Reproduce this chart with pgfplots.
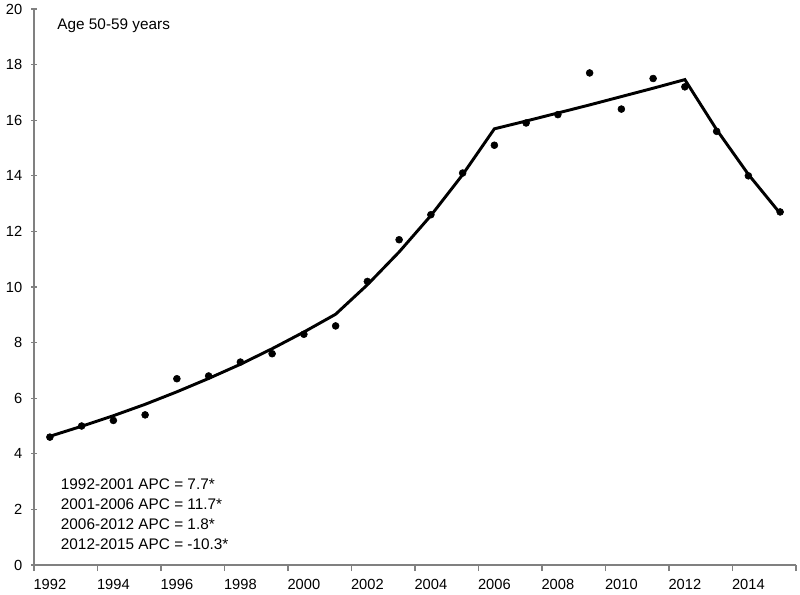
\documentclass[border=0pt]{standalone}
\usepackage{pgfplots}
\pgfplotsset{compat=1.18}
\usepackage{fontspec}
\setmainfont{Liberation Sans}
\usetikzlibrary{calc}
\definecolor{axgray}{RGB}{128,128,128}
\begin{document}
\begin{tikzpicture}
\begin{axis}[
  name=ax,
  at={(0,0)}, anchor=south west,
  scale only axis,
  width=571.5pt, height=417pt,
  xmin=1992, xmax=2016, ymin=0, ymax=20,
  axis lines*=left,
  axis line style={axgray, line width=0.9pt},
  xtick={1992,1994,...,2016},
  xticklabels={1992,1994,1996,1998,2000,2002,2004,2006,2008,2010,2012,2014,{}},
  xticklabel style={xshift=11.9pt, yshift=-3pt, font=\fontsize{11}{12}\selectfont},
  ytick={0,2,...,20},
  yticklabel style={xshift=-3pt, font=\fontsize{11}{12}\selectfont},
  xtick align=outside,
  ytick align=center,
  major tick length=4.5pt,
  tick style={axgray, line width=0.9pt},
  /pgf/number format/assume math mode=true,
  clip=false,
]
\addplot[black, line width=2.2pt, line join=miter] coordinates {
(1992.5,4.63) (1993.5,4.99) (1994.5,5.37) (1995.5,5.78) (1996.5,6.23)
(1997.5,6.71) (1998.5,7.22) (1999.5,7.78) (2000.5,8.38) (2001.5,9.02)
(2002.5,10.08) (2003.5,11.26) (2004.5,12.57) (2005.5,14.04) (2006.5,15.69)
(2007.5,15.97) (2008.5,16.26) (2009.5,16.55) (2010.5,16.85) (2011.5,17.15)
(2012.5,17.46) (2013.5,15.66) (2014.5,14.05) (2015.5,12.65)
};
\addplot[only marks, mark=*, mark size=2.6pt, black] coordinates {
(1992.5,4.6) (1993.5,5.0) (1994.5,5.2) (1995.5,5.4) (1996.5,6.7)
(1997.5,6.8) (1998.5,7.3) (1999.5,7.6) (2000.5,8.3) (2001.5,8.6)
(2002.5,10.2) (2003.5,11.7) (2004.5,12.6) (2005.5,14.1) (2006.5,15.1)
(2007.5,15.9) (2008.5,16.2) (2009.5,17.7) (2010.5,16.4) (2011.5,17.5)
(2012.5,17.2) (2013.5,15.6) (2014.5,14.0) (2015.5,12.7)
};
\node[anchor=base west, inner sep=0pt, font=\fontsize{11.5}{14}\selectfont] at (axis cs:1992.73,19.26) {Age 50-59 years};
\node[anchor=base west, inner sep=0pt, font=\fontsize{11.5}{14}\selectfont] at (axis cs:1992.84,2.70) {1992-2001 APC = 7.7*};
\node[anchor=base west, inner sep=0pt, font=\fontsize{11.5}{14}\selectfont] at (axis cs:1992.84,1.98) {2001-2006 APC = 11.7*};
\node[anchor=base west, inner sep=0pt, font=\fontsize{11.5}{14}\selectfont] at (axis cs:1992.84,1.26) {2006-2012 APC = 1.8*};
\node[anchor=base west, inner sep=0pt, font=\fontsize{11.5}{14}\selectfont] at (axis cs:1992.84,0.54) {2012-2015 APC = -10.3*};
\end{axis}
\pgfresetboundingbox
\path[use as bounding box] ($(ax.south west)+(-25.5pt,-21.75pt)$) rectangle ($(ax.south west)+(574.5pt,423.75pt)$);
\end{tikzpicture}
\end{document}
